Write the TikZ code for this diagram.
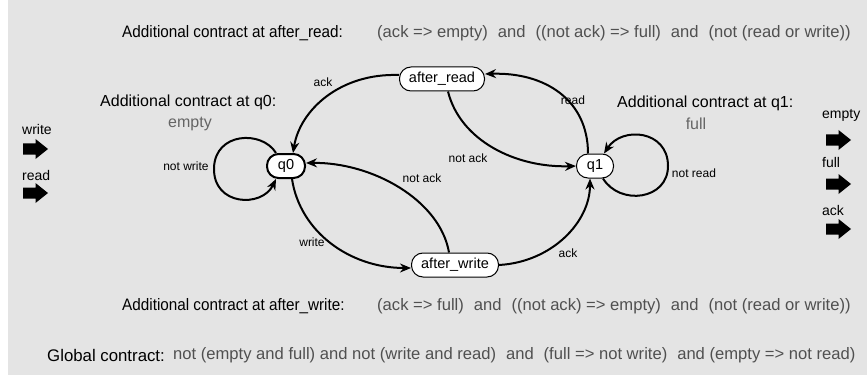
\documentclass[tikz,border=0pt]{standalone}
\usepackage{graphicx}
\usepackage{fontspec}
\setmainfont{Liberation Sans}
\usetikzlibrary{arrows.meta}
\definecolor{bg}{HTML}{E4E4E4}
\definecolor{formula}{HTML}{505050}
\definecolor{note}{HTML}{656565}
\newcommand\andgap{\hspace{0.6em}}
\newcommand\narrowtext[1]{\scalebox{0.92}[1]{#1}}
\begin{document}
\begin{tikzpicture}[x=1pt,y=-1pt,
  state/.style={draw=black, line width=1pt, fill=white, rounded corners=11.5pt,
    minimum height=24pt, inner sep=0pt, font=\fontsize{14.5}{17}\selectfont},
  initstate/.style={state, line width=2pt},
  edge/.style={line width=2pt, -{Stealth[length=11pt,width=9pt]}},
  lbl/.style={font=\fontsize{12}{14}\selectfont, inner sep=0pt},
  caption/.style={font=\fontsize{16.6}{19}\selectfont, anchor=west, inner sep=0pt},
  gcaption/.style={caption, font=\fontsize{16.8}{19}\selectfont},
  formula/.style={anchor=west, inner sep=0pt, font=\fontsize{16.6}{19}\selectfont, text=formula},
  note/.style={font=\fontsize{16}{19}\selectfont, inner sep=0pt},
  port/.style={font=\fontsize{14}{17}\selectfont, anchor=west, inner sep=0pt},
  blockarrow/.pic={\fill[black] (-12.5,-5.5) -- (0,-5.5) -- (0,-10) -- (12.5,0)
    -- (0,10) -- (0,5.5) -- (-12.5,5.5) -- cycle;}]
\useasboundingbox (0,0) rectangle (867,377);
\fill[bg] (8,0) rectangle (867,375);

% states
\node[initstate, minimum width=38pt] (q0) at (286,166) {q0};
\node[state, minimum width=37pt] (q1) at (595,166) {q1};
\node[state, minimum width=85pt] (ar) at (442,79) {after\_read};
\node[state, minimum width=87pt] (aw) at (455,265) {after\_write};

% transitions
\draw[edge] ([yshift=4pt]ar.west) .. controls (340,73) and (300,110) .. ([xshift=7pt]q0.north);
\draw[edge] ([xshift=-7pt]q1.north) .. controls (588,100) and (545,72) .. ([yshift=5pt]ar.east);
\draw[edge] ([xshift=6pt]ar.south) .. controls (460,140) and (515,168) .. (q1.west);
\draw[edge] ([xshift=6pt]q0.south) .. controls (300,232) and (350,268) .. ([yshift=-3pt]aw.west);
\draw[edge] ([xshift=-6pt]aw.north) .. controls (440,200) and (372,162) .. ([yshift=3pt]q0.east);
\draw[edge] (aw.east) .. controls (552,262) and (590,222) .. ([xshift=-5pt]q1.south);
\draw[edge] ([xshift=-10pt]q0.north) .. controls (262,130) and (215,132) .. (214,168)
  .. controls (213,206) and (262,208) .. ([xshift=-10pt]q0.south);
\draw[edge] ([xshift=8pt]q1.south) .. controls (620,206) and (668,200) .. (668,166)
  .. controls (668,130) and (622,126) .. ([xshift=9pt]q1.north);

% transition labels
\node[lbl] (l1) at (323,82) {ack};
\node[lbl] (l2) at (573,100) {read};
\node[lbl] (l3) at (468,158) {not ack};
\node[lbl] (l4) at (422,178) {not ack};
\node[lbl] (l5) at (312,242) {write};
\node[lbl] (l6) at (568,253) {ack};
\node[lbl] (l7) at (186,166) {not write};
\node[lbl] (l8) at (694,173) {not read};

% state contracts
\node[note, anchor=west] (n0) at (100,102) {Additional contract at q0:};
\node[note, text=note] (e0) at (190,124) {empty};
\node[note, anchor=west] (n1) at (617,103) {Additional contract at q1:};
\node[note, text=note] (e1) at (696,124) {full};

% inputs
\node[port] (pw) at (22,129) {write};
\node[port] (pr) at (22,175) {read};
\pic at (35.5,149) {blockarrow};
\pic at (35.5,193) {blockarrow};

% outputs
\node[port] (pe) at (822,115) {empty};
\node[port] (pf) at (822,162) {full};
\node[port] (pa) at (822,210) {ack};
\pic at (838.5,140) {blockarrow};
\pic at (838.5,184) {blockarrow};
\pic at (838.5,229) {blockarrow};

% contracts of the intermediate states and the global contract
\node[caption] (car) at (122,33) {\narrowtext{Additional contract at after\_read:}};
\node[formula] (far) at (377,33) {(ack => empty)\andgap and\andgap ((not ack) => full)\andgap and\andgap (not (read or write))};
\node[caption] (caw) at (122,306) {\narrowtext{Additional contract at after\_write:}};
\node[formula] (faw) at (377,306) {(ack => full)\andgap and\andgap ((not ack) => empty)\andgap and\andgap (not (read or write))};
\node[gcaption] (cg) at (47,355) {Global contract:};
\node[formula] (fg) at (173,355) {not (empty and full) and not (write and read)\andgap and\andgap (full => not write)\andgap and (empty => not read)};
\end{tikzpicture}
\end{document}
